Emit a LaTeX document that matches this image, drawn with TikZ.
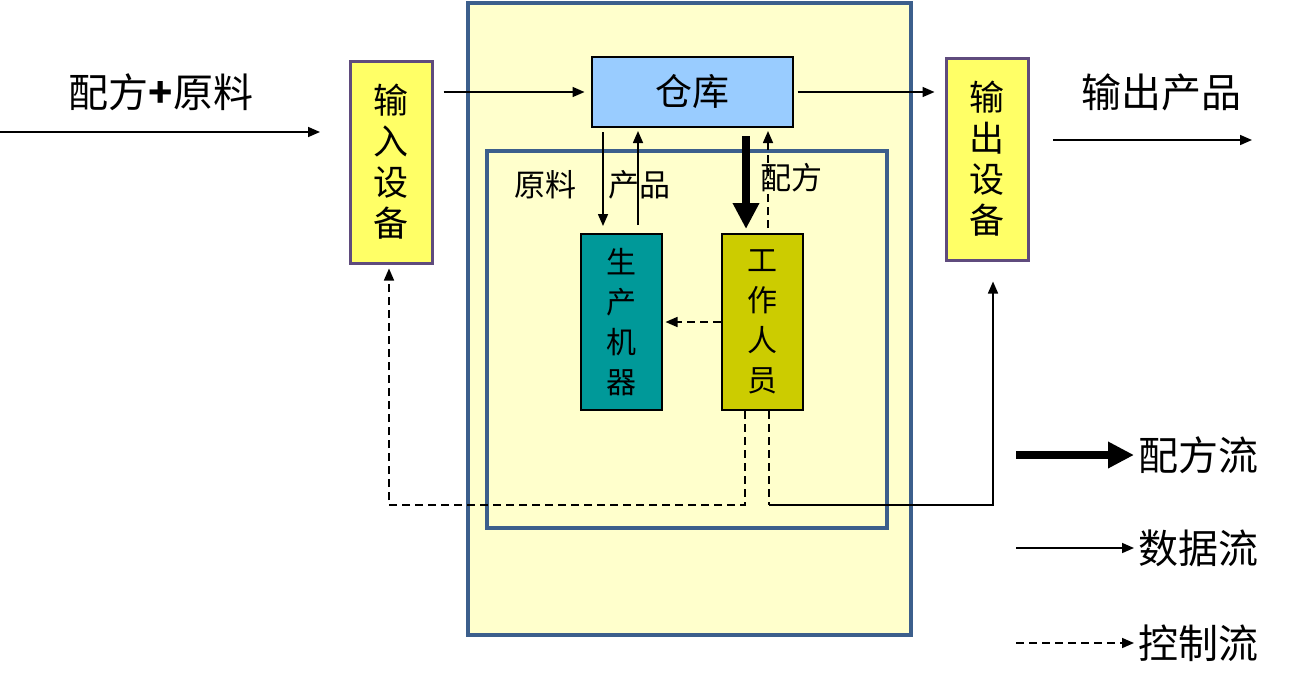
\documentclass[tikz,border=0pt]{standalone}
\usepackage{fontspec}
\setmainfont{Noto Sans CJK SC}
\usetikzlibrary{arrows.meta,calc}
\definecolor{frameblue}{HTML}{3C5F8C}
\definecolor{paleyellow}{HTML}{FFFFCC}
\definecolor{devyellow}{HTML}{FFFF66}
\definecolor{devpurple}{HTML}{5F4B7D}
\definecolor{storeblue}{HTML}{99CCFF}
\definecolor{machteal}{HTML}{009999}
\definecolor{staffolive}{HTML}{CCCC00}
\tikzset{
    device/.style={draw=devpurple, line width=3pt, fill=devyellow,
        minimum width=82pt, minimum height=202pt, align=center,
        font=\fontsize{35}{41}\selectfont},
    unit/.style={draw=black, line width=2pt, minimum width=81pt,
        minimum height=176pt, align=center,
        font=\fontsize{30}{40}\selectfont},
    data/.style={line width=1.6pt, -{Triangle[length=12pt,width=10pt]}},
    ctrl/.style={data, dash pattern=on 8pt off 5pt},
    recipe/.style={line width=8pt, -{Triangle[length=26pt,width=25pt]}},
    caption/.style={font=\fontsize{40}{44}\selectfont},
    inlbl/.style={font=\fontsize{31}{34}\selectfont}
}
\begin{document}
\begin{tikzpicture}[x=1pt, y=-1pt]
            \useasboundingbox (0,0) rectangle (1289,675);

            % frames
            \draw[frameblue, line width=3.5pt, fill=paleyellow] (468,3) rectangle (911,635);
            \draw[frameblue, line width=3.5pt] (487,151) rectangle (887,528);

            % blocks
            \node[device] (inDev) at (391,162) {输\\入\\设\\备};
            \node[device] (outDev) at (987,159) {输\\出\\设\\备};
            \node[draw=black, line width=2pt, fill=storeblue, minimum width=201pt,
                minimum height=70pt, font=\fontsize{37}{40}\selectfont] (store) at (692,92) {仓库};
            \node[unit, fill=machteal] (mach) at (621,322) {生\\产\\机\\器};
            \node[unit, fill=staffolive] (staff) at (762,322) {工\\作\\人\\员};

            % outside flows
            \coordinate (srcIn) at (0,132);
            \coordinate (srcEnd) at (320,132);
            \draw[data] (srcIn) -- (srcEnd);
            \node[caption] (inLbl) at (161,92) {配方{\bfseries+}原料};
            \coordinate (outStart) at (1053,140);
            \coordinate (outEnd) at (1252,140);
            \draw[data] (outStart) -- (outEnd);
            \node[caption] (outLbl) at (1161,92) {输出产品};

            \draw[data, shorten <=10pt, shorten >=6pt] (inDev.east |- store.west) -- (store.west);
            \draw[data, shorten <=4pt, shorten >=10pt] (store.east) -- (outDev.west |- store.east);

            % inside flows
            \draw[data] ([yshift=-4pt]store.south -| 603,0) -- ([yshift=7pt]mach.north -| 603,0);
            \draw[data] ([yshift=8pt]mach.north -| 638,0) -- ([yshift=-3pt]store.south -| 638,0);
            \draw[recipe] ([yshift=-8pt]store.south -| 746,0) -- ([yshift=4pt]staff.north -| 746,0);
            \draw[ctrl] ([yshift=5pt]staff.north -| 768,0) -- ([yshift=-3pt]store.south -| 768,0);
            \draw[ctrl] (staff.west) -- ([xshift=3pt]mach.east);

            \node[inlbl] (rawLbl) at (545,185) {原料};
            \node[inlbl] (prodLbl) at (639,185) {产品};
            \node[inlbl] (recLbl) at (791,178) {配方};

            % control back to devices
            \draw[ctrl] (staff.south -| 745,0) -- (745,505) -- (389,505) -- ([yshift=-4pt]inDev.south -| 389,0);
            \draw[dash pattern=on 8pt off 5pt, line width=1.6pt] (staff.south -| 769,0) -- (769,505);
            \draw[data] (769,505) -- (993,505) -- ([yshift=-20pt]outDev.south -| 993,0);

            % legend
            \foreach \y/\sty/\txt in {455/recipe/配方流, 548/data/数据流, 643/ctrl/控制流} {
                \coordinate (leg\y) at (1016,\y);
                \draw[\sty] (leg\y) -- ++(118,0);
                \node[caption, anchor=west, inner sep=2pt] at (1136,\y) {\txt};
            }
\end{tikzpicture}
\end{document}
